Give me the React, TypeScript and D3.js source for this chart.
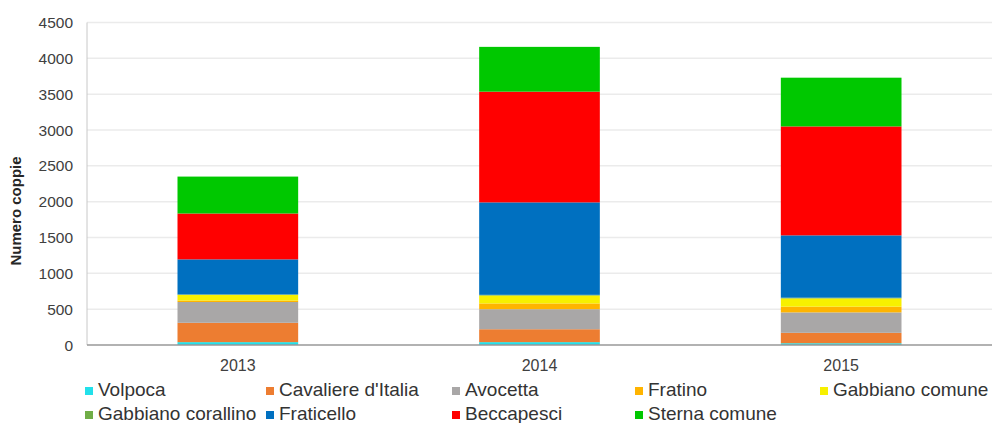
import React, { useEffect, useRef } from 'react';
import * as d3 from 'd3';

// Years on the x axis
const years = ['2013', '2014', '2015'];

// Species, bottom to top of each stack
const species = [
  'Volpoca',
  "Cavaliere d'Italia",
  'Avocetta',
  'Fratino',
  'Gabbiano comune',
  'Gabbiano corallino',
  'Fraticello',
  'Beccapesci',
  'Sterna comune',
];

const speciesColors = [
  '#22e0ea',
  '#ed7d31',
  '#a9a7a7',
  '#ffb400',
  '#f7f000',
  '#70ad47',
  '#0070c0',
  '#ff0000',
  '#00c800',
];

// Couples per species, one value per year (2013, 2014, 2015)
const volpoca = [40, 40, 25];
const cavaliere = [270, 180, 145];
const avocetta = [290, 280, 285];
const fratino = [20, 80, 80];
const gabbianoComune = [80, 110, 115];
const gabbianoCorallino = [5, 10, 10];
const fraticello = [490, 1290, 870];
const beccapesci = [640, 1545, 1520];
const sternaComune = [515, 625, 680];

const yTicks = [0, 500, 1000, 1500, 2000, 2500, 3000, 3500, 4000, 4500];

const WIDTH = 993;
const HEIGHT = 423;

export default function App() {
  const svgRef = useRef<SVGSVGElement>(null);

  useEffect(() => {
    if (!svgRef.current) return;
    const svg = d3.select(svgRef.current);
    svg.selectAll('*').remove();

    const series = [
      volpoca, cavaliere, avocetta, fratino, gabbianoComune,
      gabbianoCorallino, fraticello, beccapesci, sternaComune,
    ];
    const rows = years.map((year, i) => {
      const row: Record<string, any> = { year };
      species.forEach((s, k) => { row[s] = series[k][i]; });
      return row;
    });

    const left = 87;
    const right = 992;
    const top = 22.5;
    const bottom = 345;

    const x = d3.scaleBand<string>().domain(years).range([left, right]).padding(0);
    const y = d3.scaleLinear().domain([0, 4500]).range([bottom, top]);
    const barWidth = x.bandwidth() * 0.4;

    const font = '"Liberation Sans", Arial, sans-serif';
    const textColor = '#404040';

    // gridlines
    svg.append('g')
      .selectAll('line')
      .data(yTicks.filter(t => t > 0))
      .join('line')
      .attr('x1', left)
      .attr('x2', right)
      .attr('y1', d => y(d))
      .attr('y2', d => y(d))
      .attr('stroke', '#ebebeb')
      .attr('stroke-width', 1.5);

    // stacked bars
    const stack = d3.stack<any>().keys(species);
    const layers = stack(rows);
    svg.append('g')
      .selectAll('g')
      .data(layers)
      .join('g')
      .attr('fill', (_, i) => speciesColors[i])
      .selectAll('rect')
      .data(d => d)
      .join('rect')
      .attr('x', d => (x(d.data.year) as number) + (x.bandwidth() - barWidth) / 2)
      .attr('width', barWidth)
      .attr('y', d => y(d[1]))
      .attr('height', d => y(d[0]) - y(d[1]));

    // axes lines
    svg.append('line')
      .attr('x1', left).attr('x2', left)
      .attr('y1', top).attr('y2', bottom)
      .attr('stroke', '#c8c8c8');
    svg.append('line')
      .attr('x1', left).attr('x2', right)
      .attr('y1', bottom).attr('y2', bottom)
      .attr('stroke', '#999999')
      .attr('stroke-width', 1.5);

    // y tick labels
    svg.append('g')
      .selectAll('text')
      .data(yTicks)
      .join('text')
      .attr('x', 73)
      .attr('y', d => y(d) + 5.5)
      .attr('text-anchor', 'end')
      .attr('font-family', font)
      .attr('font-size', 15.5)
      .attr('fill', textColor)
      .text(d => d);

    // x labels
    svg.append('g')
      .selectAll('text')
      .data(years)
      .join('text')
      .attr('x', d => (x(d) as number) + x.bandwidth() / 2)
      .attr('y', 371)
      .attr('text-anchor', 'middle')
      .attr('font-family', font)
      .attr('font-size', 16)
      .attr('fill', textColor)
      .text(d => d);

    // y title
    svg.append('text')
      .attr('transform', 'translate(21,211) rotate(-90)')
      .attr('text-anchor', 'middle')
      .attr('font-family', font)
      .attr('font-size', 15)
      .attr('font-weight', 'bold')
      .attr('fill', '#262626')
      .text('Numero coppie');

    // legend
    const colX = [85, 266, 452, 635, 820];
    const rowY = [396, 420];
    const legend = svg.append('g')
      .selectAll('g')
      .data(species)
      .join('g')
      .attr('transform', (_, i) => `translate(${colX[i % 5]},${rowY[Math.floor(i / 5)]})`);
    legend.append('rect')
      .attr('x', 0)
      .attr('y', -9)
      .attr('width', 8)
      .attr('height', 8)
      .attr('fill', (_, i) => speciesColors[i]);
    legend.append('text')
      .attr('x', 13)
      .attr('y', 0)
      .attr('font-family', font)
      .attr('font-size', 19)
      .attr('fill', '#333333')
      .text(d => d);
  }, []);

  return (
    <svg
      ref={svgRef}
      width={WIDTH}
      height={HEIGHT}
      style={{ position: 'absolute', left: 0, top: 0, background: '#ffffff' }}
    />
  );
}
